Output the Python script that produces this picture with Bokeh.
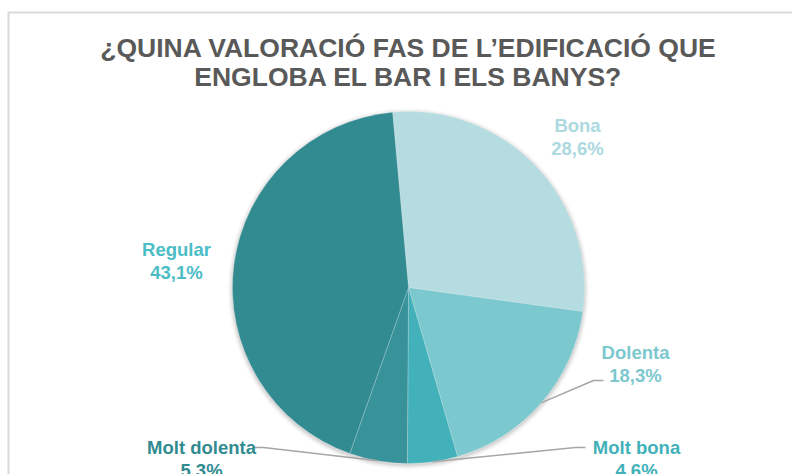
import math
from bokeh.plotting import figure
from bokeh.models import Range1d
from bokeh.core.properties import value
from bokeh.embed import file_html
from bokeh.resources import INLINE

# ---- data ----
categories = ["Bona", "Dolenta", "Molt bona", "Molt dolenta", "Regular"]
percentages = [28.6, 18.3, 4.6, 5.3, 43.1]
pct_labels = ["28,6%", "18,3%", "4,6%", "5,3%", "43,1%"]
title_lines = ["¿QUINA VALORACIÓ FAS DE L’EDIFICACIÓ QUE", "ENGLOBA EL BAR I ELS BANYS?"]

# ---- styles / layout ----
slice_colors = ["#B4DCE1", "#7CC8CF", "#42B1B9", "#37929A", "#318B91"]
label_colors = ["#ABD9DF", "#7CC8CF", "#42B1B9", "#318B91", "#4BBDC6"]
W, H = 792, 474
OX, OY = 0, 0  # picture offset of canvas


def sx(x):  # picture x -> data x
    return x - OX


def sy(y):  # picture y -> data y
    return (H + OY) - y


CX, CY, R = sx(408), sy(287), 176
START = -5.2  # degrees, clockwise from 12 o'clock

label_pos = {
    "Bona": (577, 125),
    "Dolenta": (635, 352),
    "Molt bona": (636, 447),
    "Molt dolenta": (201, 447),
    "Regular": (176, 249),
}
leaders = {
    "Dolenta": [(603, 380), (593, 380)],
    "Molt bona": [(585, 447), (575, 447)],
    "Molt dolenta": [(253, 447), (263, 447)],
}
LINE_GAP = 23

p = figure(width=W, height=H, output_backend="svg", toolbar_location=None,
           x_range=Range1d(0, W), y_range=Range1d(0, H),
           min_border=0, border_fill_color="white")
p.axis.visible = False
p.grid.visible = False
p.outline_line_color = None

# chart area border
p.line(x=[sx(8), sx(8), sx(900)], y=[sy(900), sy(12), sy(12)],
       line_color="#D9D9D9", line_width=2)

# soft shadow
for i, a in enumerate([0.05, 0.04, 0.03, 0.02, 0.015]):
    p.circle(x=[CX], y=[CY - 1.5], radius=R + 1 + i, fill_color="#000000",
             fill_alpha=a, line_color=None)

# wedges
total = sum(percentages)
theta = START
mids = []
for cat, v, col in zip(categories, percentages, slice_colors):
    t0 = theta
    t1 = theta + v / total * 360.0
    mids.append((t0 + t1) / 2)
    p.wedge(x=[CX], y=[CY], radius=R,
            start_angle=math.radians(90 - t0), end_angle=math.radians(90 - t1),
            direction="clock", fill_color=col, line_color="white",
            line_width=0.6, line_alpha=0.35)
    theta = t1

# leaders
for cat, mid in zip(categories, mids):
    if cat in leaders:
        pts = leaders[cat]
        ex = CX + R * math.sin(math.radians(mid))
        ey = CY + R * math.cos(math.radians(mid))
        xs = [sx(a) for a, b in pts] + [ex]
        ys = [sy(b) for a, b in pts] + [ey]
        p.line(x=xs, y=ys, line_color="#A6A6A6", line_width=1.5)

# labels
for cat, pl, col in zip(categories, pct_labels, label_colors):
    lx, ly = label_pos[cat]
    p.text(x=[sx(lx)], y=[sy(ly)], text=[cat], text_align="center",
           text_baseline="middle", text_color=col, text_font=value("Liberation Sans"),
           text_font_size="18.5px", text_font_style="bold")
    p.text(x=[sx(lx)], y=[sy(ly + LINE_GAP)], text=[pl], text_align="center",
           text_baseline="middle", text_color=col, text_font=value("Liberation Sans"),
           text_font_size="18.5px", text_font_style="bold")

# title
for i, t in enumerate(title_lines):
    p.text(x=[sx(408)], y=[sy(47 + 29 * i)], text=[t], text_align="center",
           text_baseline="middle", text_color="#595959", text_font=value("Liberation Sans"),
           text_font_size="26.5px", text_font_style="bold")

open("out.html", "w").write(file_html(p, INLINE))
